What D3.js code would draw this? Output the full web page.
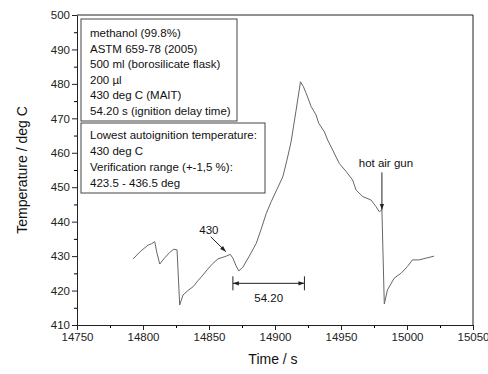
<!DOCTYPE html>
<html>
<head>
<meta charset="utf-8">
<script src="https://cdn.jsdelivr.net/npm/d3@7"></script>
<style>
  body { margin: 0; background: #fff; }
  svg { display: block; font-family: "Liberation Sans", Arial, sans-serif; }
</style>
</head>
<body>
<script>
// measured trace: time (s) and temperature (deg C)
const time = [14792.5, 14798.4, 14803.9, 14806.5, 14808.9, 14810.5, 14812.7, 14816.5, 14820, 14823.3, 14825.8,
  14827.8, 14830.3, 14834, 14837.9, 14841.5, 14845.4, 14849, 14853, 14856.8, 14860, 14863.1, 14866.1, 14868.1,
  14870.5, 14872.6, 14875.7, 14880.5, 14885.8, 14889.5, 14893.4, 14897.1, 14901.5, 14905.9, 14909, 14912.2,
  14916, 14919.3, 14921.5, 14923.6, 14927.4, 14931.1, 14933.1, 14937.4, 14939.9, 14943.7, 14948.7, 14953.8,
  14958.8, 14961.4, 14966.4, 14972.7, 14976.5, 14979, 14981, 14982.8, 14985.2, 14990.3, 14995.4, 15000.4,
  15004.1, 15009.2, 15014.3, 15020.5];
const temp = [429.2, 431.5, 433.2, 433.6, 434.2, 431, 427.7, 429.5, 431, 432, 431.8,
  415.8, 418.7, 420, 421.1, 422.8, 424.5, 426.2, 427.9, 429.2, 429.6, 430, 430.5, 429.4,
  427.2, 425.7, 426.8, 430, 433.7, 437.8, 442.4, 445.8, 449.4, 453, 457.8, 463.2,
  472.4, 480.6, 479.2, 477.3, 473.4, 471, 468.6, 466.1, 463.7, 460.8, 456.9, 454.6,
  452.1, 449.2, 447.3, 446.3, 444.4, 442.9, 443.4, 416.1, 420.2, 423.6, 425, 427,
  428.9, 428.9, 429.4, 430];

const xTicks = [14750, 14800, 14850, 14900, 14950, 15000, 15050];
const yTicks = [410, 420, 430, 440, 450, 460, 470, 480, 490, 500];

const infoLines = ["methanol (99.8%)", "ASTM 659-78 (2005)", "500 ml (borosilicate flask)", "200 \u00b5l",
  "430 deg C (MAIT)", "54.20 s (ignition delay time)"];
const resultLines = ["Lowest autoignition temperature:", "430 deg C", "Verification range (+-1,5 %):",
  "423.5 - 436.5 deg"];

// delay marker: start time and length
const delayStart = 14868.1, delayLen = 54.2, delayTemp = 422.1;

const W = 488, H = 374;
const margin = {top: 15, right: 15, bottom: 49, left: 77};
const width = W - margin.left - margin.right,
    height = H - margin.top - margin.bottom;

const svg = d3.select("body").append("svg")
    .attr("width", W).attr("height", H);

const defs = svg.append("defs");
defs.append("marker").attr("id", "ah")
    .attr("viewBox", "0 0 10 10").attr("refX", 10).attr("refY", 5)
    .attr("markerWidth", 7).attr("markerHeight", 6).attr("orient", "auto-start-reverse")
    .attr("markerUnits", "userSpaceOnUse")
    .append("path").attr("d", "M0,1.5L10,5L0,8.5Z").attr("fill", "#222");

const g = svg.append("g").attr("transform", `translate(${margin.left},${margin.top})`);

const x = d3.scaleLinear().domain([14750, 15050]).range([0, width]);
const y = d3.scaleLinear().domain([410, 500]).range([height, 0]);

// minor ticks
g.append("g").attr("transform", `translate(0,${height})`)
    .call(d3.axisBottom(x).tickValues(d3.range(14775, 15050, 50)).tickSize(3).tickFormat(""))
    .call(a => a.select(".domain").remove());
g.append("g")
    .call(d3.axisLeft(y).tickValues(d3.range(415, 500, 10)).tickSize(3).tickFormat(""))
    .call(a => a.select(".domain").remove());

// major axes
const xa = g.append("g").attr("transform", `translate(0,${height})`)
    .call(d3.axisBottom(x).tickValues(xTicks).tickSize(5).tickSizeOuter(0).tickPadding(3).tickFormat(d3.format("d")));
const ya = g.append("g")
    .call(d3.axisLeft(y).tickValues(yTicks).tickSize(5).tickSizeOuter(0).tickPadding(2).tickFormat(d3.format("d")));
[xa, ya].forEach(a => {
  a.selectAll("text").attr("font-size", 11.5).attr("fill", "#222").attr("font-family", null);
  a.selectAll("line,path").attr("stroke", "#222");
});

// frame top / right
g.append("path").attr("d", `M0,0H${width}V${height}`).attr("fill", "none").attr("stroke", "#222");

// trace
g.append("path")
    .datum(time.map((t, i) => [t, temp[i]]))
    .attr("fill", "none").attr("stroke", "#666").attr("stroke-width", 1)
    .attr("d", d3.line().x(d => x(d[0])).y(d => y(d[1])));

// info boxes
function box(x0, y0, w, h, lines, lh, ty) {
  g.append("rect").attr("x", x0).attr("y", y0).attr("width", w).attr("height", h)
      .attr("fill", "#fff").attr("stroke", "#444");
  g.append("g").selectAll("text").data(lines).join("text")
      .attr("x", x0 + 9).attr("y", (d, i) => y0 + ty + i * lh)
      .attr("font-size", 11.5).attr("fill", "#111").text(d => d);
}
box(4, 4, 156, 102, infoLines, 15.6, 18);
box(4, 108, 184, 70, resultLines, 16, 16);

// 430 annotation
g.append("text").attr("x", x(14862) - 16).attr("y", y(431.3) - 18).attr("text-anchor", "middle")
    .attr("font-size", 11.5).attr("fill", "#111").text("430");
g.append("line").attr("x1", x(14851.3)).attr("y1", y(435.6)).attr("x2", x(14862.8)).attr("y2", y(431.3))
    .attr("stroke", "#222").attr("marker-end", "url(#ah)");

// delay bracket
const dy = y(delayTemp);
g.append("line").attr("x1", x(delayStart)).attr("x2", x(delayStart + delayLen)).attr("y1", dy).attr("y2", dy)
    .attr("stroke", "#222").attr("marker-start", "url(#ah)").attr("marker-end", "url(#ah)");
[delayStart, delayStart + delayLen].forEach(t =>
  g.append("line").attr("x1", x(t)).attr("x2", x(t)).attr("y1", dy - 7).attr("y2", dy + 7).attr("stroke", "#222"));
g.append("text").attr("x", x(delayStart + delayLen / 2)).attr("y", dy + 19).attr("text-anchor", "middle")
    .attr("font-size", 11.5).attr("fill", "#111").text("54.20");

// hot air gun annotation
g.append("text").attr("x", x(14981) + 4).attr("y", y(455.9)).attr("text-anchor", "middle")
    .attr("font-size", 11.5).attr("fill", "#111").text("hot air gun");
g.append("line").attr("x1", x(14981)).attr("x2", x(14981)).attr("y1", y(454.3)).attr("y2", y(443.4))
    .attr("stroke", "#222").attr("marker-end", "url(#ah)");

// axis titles
svg.append("text").attr("x", margin.left + x(14900) - 2).attr("y", H - 10).attr("text-anchor", "middle")
    .attr("font-size", 14).attr("fill", "#111").text("Time / s");
svg.append("text").attr("transform", `translate(27,${margin.top + y(455)}) rotate(-90)`)
    .attr("text-anchor", "middle").attr("font-size", 14).attr("fill", "#111").text("Temperature / deg C");
</script>
</body>
</html>
